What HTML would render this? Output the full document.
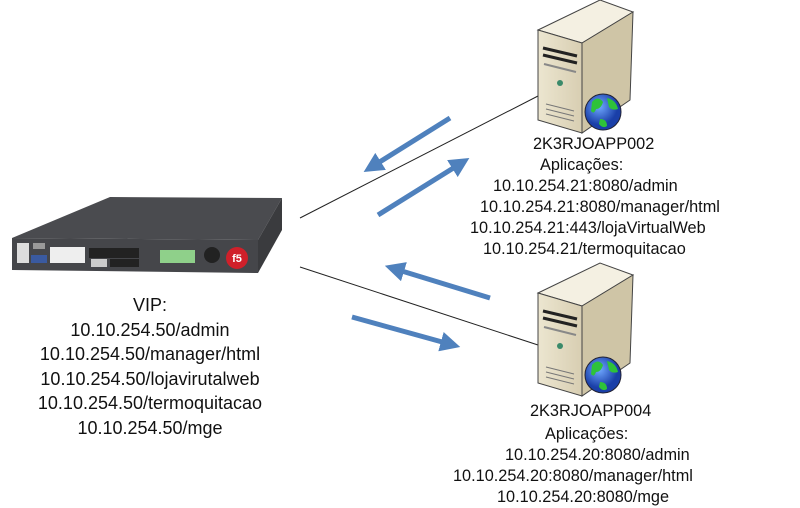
<!DOCTYPE html>
<html><head><meta charset="utf-8"><style>
body{margin:0;background:#fff;}
.t{position:absolute;font-family:"Liberation Sans",sans-serif;color:#111;white-space:nowrap}
.s{font-size:16.3px;line-height:21px}
</style></head><body>
<div style="position:relative;width:800px;height:508px;overflow:hidden">
<svg width="800" height="508" style="position:absolute;left:0;top:0">
<defs>
<marker id="ah" markerWidth="4" markerHeight="4" refX="2.5" refY="2" orient="auto" markerUnits="strokeWidth"><path d="M0,0 L4,2 L0,4 Z" fill="#4f81bd"/></marker>
<linearGradient id="fr" x1="0" x2="1"><stop offset="0" stop-color="#ece6d0"/><stop offset="1" stop-color="#d8ceb2"/></linearGradient>
<radialGradient id="gl" cx="0.4" cy="0.35"><stop offset="0" stop-color="#6fa8ff"/><stop offset="1" stop-color="#1a3fa8"/></radialGradient>
<g id="srv">
<polygon points="0,30 62,0 95,12 44,43" fill="#f4f0e2" stroke="#444" stroke-width="1"/>
<polygon points="0,30 44,43 44,133 0,120" fill="url(#fr)" stroke="#444" stroke-width="1"/>
<polygon points="44,43 95,12 92,100 44,133" fill="#cfc5a6" stroke="#444" stroke-width="1"/>
<path d="M5,48 l34,8 M5,55 l34,8" stroke="#222" stroke-width="3"/>
<path d="M6,64 l32,8" stroke="#888" stroke-width="2"/>
<circle cx="22" cy="83" r="3" fill="#3a8a6a"/>
<path d="M8,104 l28,7 M8,109 l28,7 M8,114 l28,7" stroke="#777" stroke-width="1"/>
<circle cx="65" cy="112" r="18" fill="url(#gl)" stroke="#223" stroke-width="1"/>
<path d="M54,102 q6,-7 11,0 q-2,7 -7,7 q-2,6 -5,2 Z M69,98 q9,2 11,11 q-6,2 -9,-2 Z M62,119 q7,0 7,7 q-4,3 -8,-2 Z" fill="#2ec23a"/>
</g>
</defs>
<line x1="300" y1="218" x2="538" y2="96" stroke="#222" stroke-width="1"/>
<line x1="300" y1="267" x2="538" y2="345" stroke="#222" stroke-width="1"/>
<g stroke="#4f81bd" stroke-width="5" fill="none" marker-end="url(#ah)">
<line x1="450" y1="118" x2="370" y2="168"/>
<line x1="378" y1="215" x2="463" y2="162"/>
<line x1="490" y1="298" x2="392" y2="268"/>
<line x1="352" y1="317" x2="453" y2="345"/>
</g>
<use href="#srv" x="538" y="0"/>
<use href="#srv" x="538" y="263"/>
<polygon points="12,238 110,197 282,198 258,240" fill="#4a4b4f"/>
<polygon points="258,240 282,198 282,230 258,273" fill="#3a3b3e"/>
<polygon points="12,238 258,240 258,273 12,270" fill="#45464a"/>
<rect x="17" y="243" width="12" height="20" fill="#ddd"/>
<rect x="33" y="243" width="12" height="6" fill="#999"/>
<rect x="31" y="255" width="16" height="8" fill="#3a5aa0"/>
<rect x="50" y="247" width="35" height="16" fill="#eee"/>
<rect x="89" y="248" width="50" height="10" fill="#222"/>
<rect x="91" y="259" width="16" height="8" fill="#ccc"/>
<rect x="110" y="259" width="29" height="8" fill="#222"/>
<rect x="160" y="250" width="35" height="13" fill="#8fd08a"/>
<circle cx="212" cy="255" r="8" fill="#222"/>
<circle cx="237" cy="258" r="11" fill="#d0202a"/>
<text x="237" y="262" font-family="Liberation Sans" font-size="11" font-weight="bold" fill="#fff" text-anchor="middle">f5</text>
</svg>
<div class="t" style="left:0;width:300px;text-align:center;top:293px;font-size:18px;line-height:24.5px">VIP:<br>10.10.254.50/admin<br>10.10.254.50/manager/html<br>10.10.254.50/lojavirutalweb<br>10.10.254.50/termoquitacao<br>10.10.254.50/mge</div>
<div class="t s" style="left:533px;top:134px">2K3RJOAPP002</div>
<div class="t s" style="left:540px;top:155px">Aplicações:</div>
<div class="t s" style="left:493px;top:176px">10.10.254.21:8080/admin</div>
<div class="t s" style="left:480px;top:197px">10.10.254.21:8080/manager/html</div>
<div class="t s" style="left:470px;top:218px">10.10.254.21:443/lojaVirtualWeb</div>
<div class="t s" style="left:483px;top:239px">10.10.254.21/termoquitacao</div>
<div class="t s" style="left:530px;top:401px">2K3RJOAPP004</div>
<div class="t s" style="left:545px;top:424px">Aplicações:</div>
<div class="t s" style="left:505px;top:445px">10.10.254.20:8080/admin</div>
<div class="t s" style="left:453px;top:466px">10.10.254.20:8080/manager/html</div>
<div class="t s" style="left:497px;top:487px">10.10.254.20:8080/mge</div>
</div>
</body></html>
